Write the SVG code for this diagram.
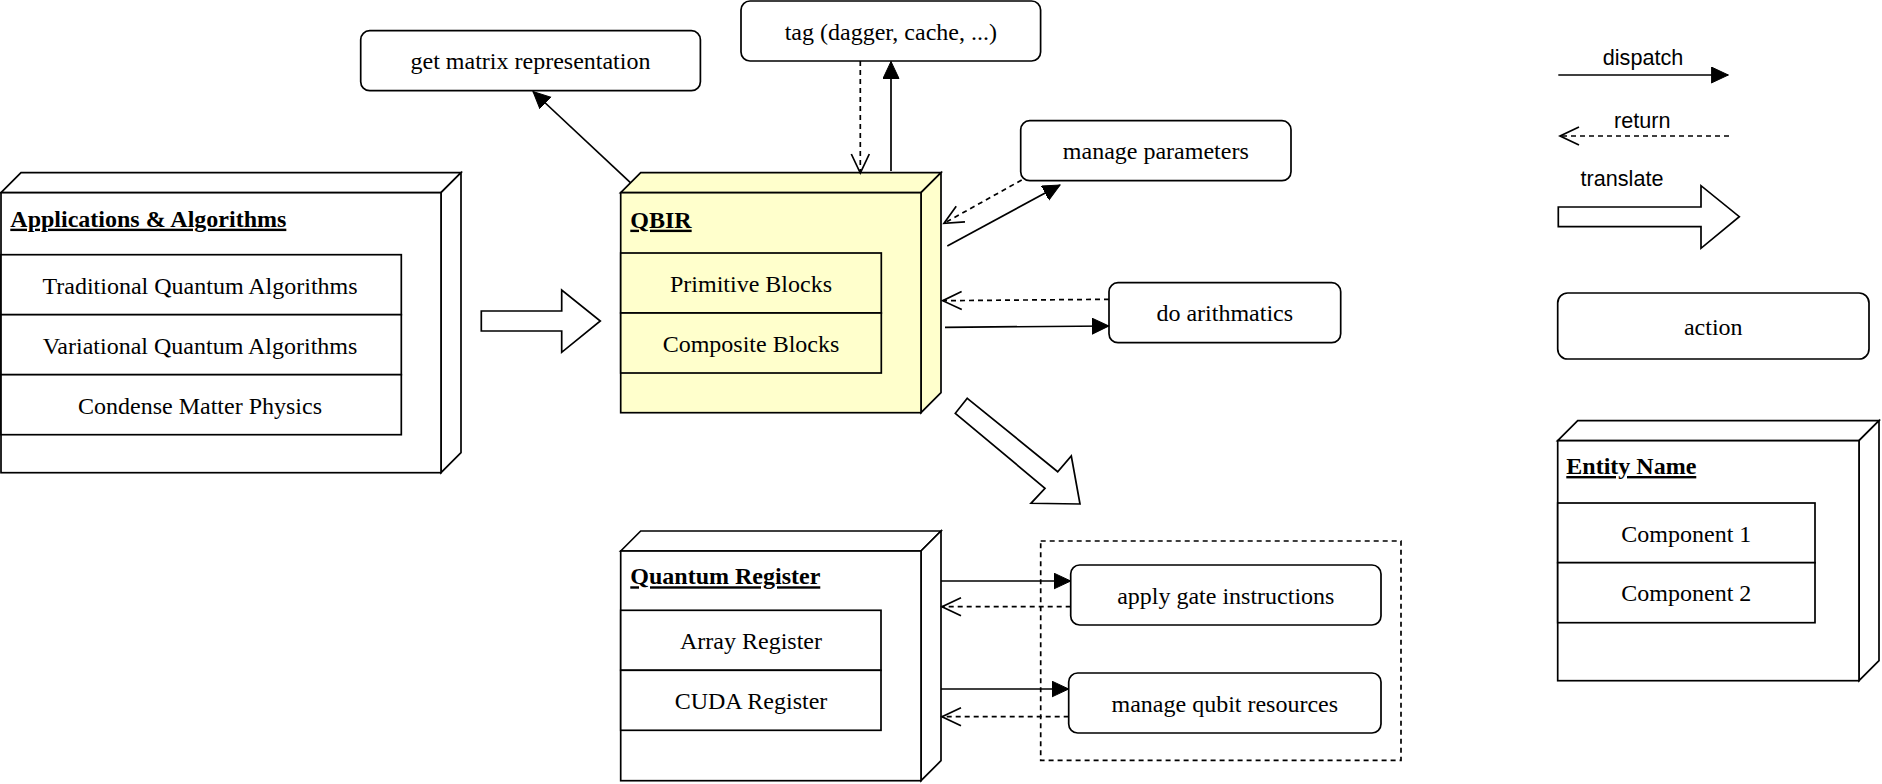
<svg xmlns="http://www.w3.org/2000/svg" width="1882" height="784" viewBox="0 0 1882 784">
<style>
.sh{fill:#fff;stroke:#000;stroke-width:1.7;stroke-linejoin:miter}
.yl{fill:#ffffcc}
.rb{fill:#fff;stroke:#000;stroke-width:1.7}
.t{font-family:"Liberation Serif","Times New Roman",serif;font-size:24px;fill:#000;text-anchor:middle}
.ti{font-family:"Liberation Serif","Times New Roman",serif;font-size:24px;font-weight:bold;text-decoration:underline;fill:#000}
.s{font-family:"Liberation Sans",Arial,sans-serif;font-size:21.6px;fill:#000;text-anchor:middle}
.ln{fill:none;stroke:#000;stroke-width:1.7}
.da{stroke-dasharray:5 4}
.ba{fill:#fff;stroke:#000;stroke-width:1.7;stroke-linejoin:miter}
</style>
<defs>
<marker id="fa" markerUnits="userSpaceOnUse" markerWidth="18" markerHeight="18" viewBox="0 0 18 18" refX="17" refY="8" orient="auto">
<path d="M0,0 L17,8 L0,16 Z" fill="#000" stroke="#000" stroke-width="1"/>
</marker>
<marker id="oa" markerUnits="userSpaceOnUse" markerWidth="22" markerHeight="22" viewBox="-1 -1 22 22" refX="19" refY="9" orient="auto">
<path d="M0,0 L19,9 L0,18" fill="none" stroke="#000" stroke-width="1.7"/>
</marker>
</defs>

<g id="applications">
<path class="sh" d="M1,192.7 L21,172.7 L461,172.7 L441,192.7 Z"/>
<path class="sh" d="M441,192.7 L461,172.7 L461,452.7 L441,472.7 Z"/>
<rect class="sh" x="1" y="192.7" width="440" height="280"/>
<text class="ti" x="10.3" y="226.7">Applications &amp; Algorithms</text>
<rect class="sh" x="1" y="254.7" width="400.3" height="60"/>
<rect class="sh" x="1" y="314.7" width="400.3" height="60"/>
<rect class="sh" x="1" y="374.7" width="400.3" height="60"/>
<text class="t" x="200" y="293.5">Traditional Quantum Algorithms</text>
<text class="t" x="200" y="353.5">Variational Quantum Algorithms</text>
<text class="t" x="200" y="413.5">Condense Matter Physics</text>
</g>

<g id="qbir">
<path class="sh yl" d="M620.7,192.7 L640.7,172.7 L941,172.7 L921,192.7 Z"/>
<path class="sh yl" d="M921,192.7 L941,172.7 L941,392.7 L921,412.7 Z"/>
<rect class="sh yl" x="620.7" y="192.7" width="300.3" height="220"/>
<text class="ti" x="630.3" y="227.7">QBIR</text>
<rect class="sh yl" x="620.7" y="253" width="260.6" height="60"/>
<rect class="sh yl" x="620.7" y="313" width="260.6" height="60"/>
<text class="t" x="751" y="291.5">Primitive Blocks</text>
<text class="t" x="751" y="351.5">Composite Blocks</text>
</g>

<g id="quantum-register">
<path class="sh" d="M620.7,551 L640.7,531 L941,531 L921,551 Z"/>
<path class="sh" d="M921,551 L941,531 L941,760.7 L921,780.7 Z"/>
<rect class="sh" x="620.7" y="551" width="300.3" height="229.7"/>
<text class="ti" x="630.3" y="584.3">Quantum Register</text>
<rect class="sh" x="620.7" y="610.3" width="260.3" height="60"/>
<rect class="sh" x="620.7" y="670.3" width="260.3" height="60"/>
<text class="t" x="751" y="648.8">Array Register</text>
<text class="t" x="751" y="708.8">CUDA Register</text>
</g>

<g id="get-matrix">
<rect class="rb" x="360.7" y="30.7" width="339.7" height="60" rx="9" ry="9"/>
<text class="t" x="530.5" y="69.2">get matrix representation</text>
</g>
<g id="tag">
<rect class="rb" x="741" y="1" width="299.6" height="60" rx="9" ry="9"/>
<text class="t" x="890.8" y="39.5">tag (dagger, cache, ...)</text>
</g>
<g id="manage-parameters">
<rect class="rb" x="1020.7" y="120.7" width="270.3" height="60" rx="9" ry="9"/>
<text class="t" x="1155.8" y="159.2">manage parameters</text>
</g>
<g id="do-arithmatics">
<rect class="rb" x="1109" y="282.7" width="231.7" height="60" rx="9" ry="9"/>
<text class="t" x="1224.8" y="321.2">do arithmatics</text>
</g>
<g id="backend-actions">
<rect class="ln da" x="1040.7" y="541" width="360.3" height="219.3"/>
</g>
<g id="apply-gate">
<rect class="rb" x="1070.7" y="565" width="310.3" height="60" rx="9" ry="9"/>
<text class="t" x="1225.8" y="603.5">apply gate instructions</text>
</g>
<g id="manage-qubit">
<rect class="rb" x="1068.7" y="673" width="312.3" height="60" rx="9" ry="9"/>
<text class="t" x="1224.8" y="711.5">manage qubit resources</text>
</g>

<g id="translate-arrows">
<polygon class="ba" points="481.3,311 561.7,311 561.7,290 600.3,321 561.7,352.3 561.7,331 481.3,331"/>
<polygon class="ba" points="967.3,398.3 1057.7,471.7 1071.3,456 1080,504 1031,503.3 1045,488.3 955.3,413.3"/>
</g>

<g id="connectors">
<line class="ln da" x1="860.3" y1="61" x2="860.3" y2="173" marker-end="url(#oa)"/>
<line class="ln" x1="891" y1="171" x2="891" y2="61.5" marker-end="url(#fa)"/>
<line class="ln" x1="630.4" y1="182.7" x2="533" y2="91.5" marker-end="url(#fa)"/>
<line class="ln da" x1="1021.7" y1="180" x2="944" y2="223.3" marker-end="url(#oa)"/>
<line class="ln" x1="947.3" y1="246" x2="1060" y2="185" marker-end="url(#fa)"/>
<line class="ln da" x1="1109" y1="299.3" x2="942.7" y2="300.7" marker-end="url(#oa)"/>
<line class="ln" x1="945" y1="327.3" x2="1109" y2="326" marker-end="url(#fa)"/>
<line class="ln" x1="941" y1="581" x2="1070.7" y2="581" marker-end="url(#fa)"/>
<line class="ln da" x1="1070.7" y1="606.7" x2="942" y2="606.7" marker-end="url(#oa)"/>
<line class="ln" x1="941" y1="689" x2="1068.7" y2="689" marker-end="url(#fa)"/>
<line class="ln da" x1="1068.7" y1="716.7" x2="942" y2="716.7" marker-end="url(#oa)"/>
</g>

<g id="legend">
<text class="s" x="1643" y="65">dispatch</text>
<line class="ln" x1="1558.3" y1="75" x2="1728.3" y2="75" marker-end="url(#fa)"/>
<text class="s" x="1642.3" y="128.3">return</text>
<line class="ln da" x1="1729" y1="136" x2="1560" y2="136" marker-end="url(#oa)"/>
<text class="s" x="1622" y="185.7">translate</text>
<polygon class="ba" points="1558.3,207 1701,207 1701,185.7 1739.3,216.7 1701,248.3 1701,226.7 1558.3,226.7"/>
<g id="legend-action">
<rect class="rb" x="1557.7" y="293" width="311.3" height="66" rx="10" ry="10"/>
<text class="t" x="1713.3" y="334.5">action</text>
</g>
<g id="legend-entity">
<path class="sh" d="M1557.7,440.7 L1577.7,420.7 L1879,420.7 L1859,440.7 Z"/>
<path class="sh" d="M1859,440.7 L1879,420.7 L1879,660.7 L1859,680.7 Z"/>
<rect class="sh" x="1557.7" y="440.7" width="301.3" height="240"/>
<text class="ti" x="1566.3" y="474">Entity Name</text>
<rect class="sh" x="1557.7" y="503" width="257.3" height="59.7"/>
<rect class="sh" x="1557.7" y="562.7" width="257.3" height="60"/>
<text class="t" x="1686.3" y="541.5">Component 1</text>
<text class="t" x="1686.3" y="601.2">Component 2</text>
</g>
</g>
</svg>
